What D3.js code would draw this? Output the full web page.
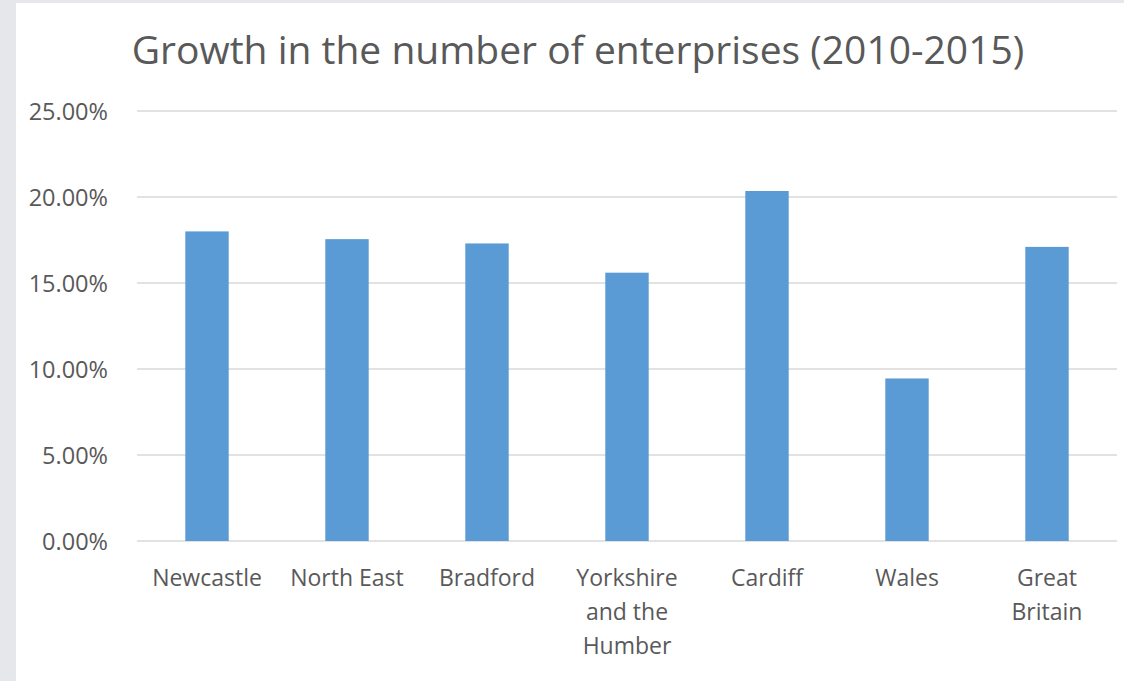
<!DOCTYPE html>
<html>
<head>
<meta charset="utf-8">
<script src="https://cdn.jsdelivr.net/npm/d3@7"></script>
<style>
  html, body { margin: 0; padding: 0; background: #fff; }
  svg { display: block; }
  text { font-family: "Open Sans", "Noto Sans", sans-serif; fill: #595959; }
</style>
</head>
<body>
<svg id="chart" width="1124" height="681"></svg>
<script>
const title = "Growth in the number of enterprises (2010-2015)";
const categories = ["Newcastle", "North East", "Bradford", "Yorkshire and the Humber", "Cardiff", "Wales", "Great Britain"];
const categoryLines = [["Newcastle"], ["North East"], ["Bradford"], ["Yorkshire", "and the", "Humber"], ["Cardiff"], ["Wales"], ["Great", "Britain"]];
const growth = [18.0, 17.55, 17.3, 15.6, 20.35, 9.45, 17.1];
const yTicks = [0, 5, 10, 15, 20, 25];

const svg = d3.select("#chart");
const W = 1124, H = 681;

// frame
svg.append("rect").attr("x", 0).attr("y", 0).attr("width", W).attr("height", H).attr("fill", "#e5e7ea");
svg.append("rect").attr("x", 16).attr("y", 3).attr("width", W - 16).attr("height", H - 3).attr("fill", "#ffffff");

const x = d3.scaleBand().domain(categories).range([137, 1117]).paddingInner(0.69).paddingOuter(0.345);
const y = d3.scaleLinear().domain([0, 25]).range([541, 111]);

// gridlines
svg.append("g").selectAll("line").data(yTicks).join("line")
  .attr("x1", 137).attr("x2", 1117)
  .attr("y1", d => y(d)).attr("y2", d => y(d))
  .attr("stroke", "#d9d9d9").attr("stroke-width", 1.5);

// y labels
const yAxis = d3.axisLeft(y).tickValues(yTicks).tickSize(0).tickPadding(0).tickFormat(d => d3.format(".2f")(d) + "%");
const yg = svg.append("g").attr("transform", "translate(108,0)").call(yAxis);
yg.select(".domain").remove();
yg.selectAll("text").attr("font-size", 23.5).attr("fill", "#595959")
  .style("font-family", "'Open Sans', 'Noto Sans', sans-serif").attr("dy", "0.35em");

// bars
svg.append("g").selectAll("rect").data(categories).join("rect")
  .attr("x", d => x(d))
  .attr("width", x.bandwidth())
  .attr("y", (d, i) => y(growth[i]))
  .attr("height", (d, i) => y(0) - y(growth[i]))
  .attr("fill", "#5b9bd5");

// x labels
const xl = svg.append("g").selectAll("text").data(categories).join("text")
  .attr("x", d => x(d) + x.bandwidth() / 2)
  .attr("y", 586)
  .attr("text-anchor", "middle")
  .attr("font-size", 23);
xl.each(function(d, i) {
  const t = d3.select(this);
  categoryLines[i].forEach((ln, j) => {
    t.append("tspan").attr("x", x(d) + x.bandwidth() / 2).attr("dy", j === 0 ? 0 : 34).text(ln);
  });
});

// title
svg.append("text").attr("x", 578).attr("y", 64).attr("text-anchor", "middle")
  .attr("font-size", 39).text(title);
</script>
</body>
</html>
